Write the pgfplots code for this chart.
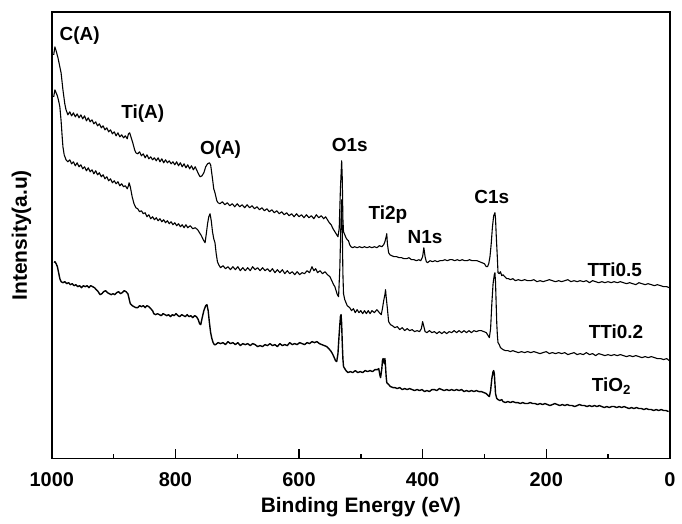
\documentclass[border=0pt]{standalone}
\usepackage{fontspec}
\setmainfont{Liberation Sans}
\usepackage{pgfplots}
\pgfplotsset{compat=1.18}

\begin{document}
\begin{tikzpicture}
\begin{axis}[
    name=ax,
    width=310pt, height=224pt, scale only axis,
    x dir=reverse,
    xmin=0, xmax=1000, ymin=60, ymax=507,
    xtick={0,200,400,600,800,1000},
    minor xtick={100,300,500,700,900},
    ytick=\empty,
    xtick pos=bottom,
    tick align=inside,
    major tick length=5pt, minor tick length=2.5pt,
    axis line style={line width=0.9pt, black},
    every tick/.style={line width=0.7pt, black},
    /pgf/number format/assume math mode=true,
    /pgf/number format/set thousands separator={},
    ticklabel style={font=\fontsize{10}{12}\selectfont\bfseries},
    xticklabel style={yshift=-3.5pt},
    xlabel={Binding Energy (eV)},
    ylabel={Intensity(a.u)},
    label style={font=\fontsize{10.5}{12}\selectfont\bfseries},
    xlabel style={at={(axis description cs:0.5,-0.072)}, anchor=north},
    ylabel style={at={(axis description cs:-0.022,0.5)}, anchor=south},
    spec/.style={black, line width=0.55pt, line join=round, mark=none},
    clip=false,
]
% TTi0.5
\addplot[spec] coordinates {
(997,464) (995,472) (993,468) (990,461) (987,452) (985,446) (982,429) (979,415) (977,409) (974,404)
(971,407) (968,403) (965,406) (962,402) (959,405) (956,401) (953,404) (950,400) (947,403) (944,398)
(941,401) (938,397) (935,399) (932,395) (929,397) (926,393) (923,395) (920,391) (917,393) (914,389)
(911,391) (908,387) (905,389) (902,385) (899,387) (896,383) (893,386) (890,382) (887,384) (884,381)
(881,383) (878,380) (876,385) (874,386) (872,382) (869,376) (866,369) (864,366) (861,365) (858,367)
(855,363) (852,365) (849,361) (846,364) (843,360) (840,362) (837,359) (834,361) (831,358) (828,361)
(825,357) (822,360) (819,356) (816,359) (813,356) (810,358) (807,355) (804,357) (801,354) (798,357)
(795,353) (792,356) (789,352) (786,355) (783,351) (780,354) (777,350) (774,353) (771,349) (768,352)
(765,348) (762,344) (760,342) (757,343) (754,346) (751,352) (748,355) (745,356) (743,354) (740,340)
(738,330) (736,326) (733,318) (731,316) (728,315) (724,317) (720,314) (716,316) (712,313) (708,315)
(704,312) (700,315) (696,312) (692,314) (688,311) (684,314) (680,311) (676,313) (672,310) (668,312)
(664,309) (660,311) (656,308) (652,310) (648,307) (644,309) (640,306) (636,308) (632,305) (628,307)
(624,304) (620,306) (616,303) (612,305) (608,302) (604,305) (600,302) (596,304) (592,301) (588,304)
(584,301) (580,303) (576,300) (572,304) (568,301) (564,303) (560,300) (557,302) (554,299) (551,296)
(548,294) (545,290) (542,287) (539,284) (537,282) (535,290) (533,330) (531,358) (530,340) (529,300)
(528,287) (526,284) (524,281) (522,279) (520,278) (518,274) (516,272) (513,271) (510,272) (506,271)
(502,272) (498,271) (494,272) (490,271) (486,272) (482,271) (478,272) (474,271) (470,273) (466,272)
(463,274) (461,277) (459,282) (458,285) (457,275) (455,266) (453,264) (450,263) (446,262) (442,262)
(438,261) (434,261) (430,260) (426,260) (422,261) (418,259) (414,259) (410,258) (406,259) (403,258)
(400,262) (398,271) (396,262) (394,257) (392,256) (388,258) (384,257) (380,258) (376,257) (372,258)
(368,258) (364,259) (360,258) (356,259) (352,259) (348,258) (344,259) (340,258) (336,259) (332,258)
(328,258) (324,259) (320,258) (316,258) (312,258) (308,257) (304,256) (300,255) (297,252) (295,252)
(293,255) (291,262) (289,275) (287,292) (285,303) (283,306) (282,300) (281,285) (279,260) (278,246)
(276,245) (274,247) (272,243) (270,244) (267,242) (264,240) (261,240) (258,239) (254,240) (250,238)
(245,239) (240,238) (235,239) (230,238) (225,238) (220,239) (215,237) (210,238) (205,237) (200,238)
(195,239) (190,238) (185,237) (180,238) (175,237) (170,238) (165,239) (160,237) (155,238) (150,237)
(145,238) (140,237) (135,238) (130,236) (125,238) (120,237) (115,236) (110,237) (105,236) (100,237)
(95,236) (90,237) (85,236) (80,237) (75,236) (70,235) (65,236) (60,235) (55,234) (50,236)
(45,235) (40,234) (35,235) (30,234) (25,233) (20,234) (15,233) (10,232) (5,232) (1,231)
};
% TTi0.2
\addplot[spec] coordinates {
(997,422) (995,429) (993,426) (991,423) (989,418) (987,412) (985,398) (983,380) (982,372) (980,364)
(977,359) (974,357) (971,359) (968,355) (965,357) (962,353) (959,356) (956,352) (953,354) (950,350)
(947,352) (944,348) (941,351) (938,347) (935,349) (932,345) (929,348) (926,344) (923,346) (920,342)
(917,344) (914,340) (911,342) (908,338) (905,340) (902,336) (899,338) (896,335) (893,337) (890,333)
(887,335) (884,332) (881,333) (878,330) (876,333) (875,336) (873,332) (870,322) (867,315) (864,311)
(861,310) (858,307) (855,308) (852,305) (849,306) (846,302) (843,304) (840,300) (837,302) (834,299)
(831,301) (828,298) (825,300) (822,297) (819,299) (816,296) (813,298) (810,295) (807,297) (804,294)
(801,296) (798,293) (795,295) (792,292) (789,294) (786,291) (783,294) (780,291) (776,293) (772,290)
(768,291) (764,289) (761,286) (758,283) (755,279) (752,276) (750,285) (748,295) (746,302) (744,305)
(742,298) (740,287) (738,280) (736,276) (734,265) (732,257) (730,254) (727,251) (723,253) (719,250)
(715,252) (711,249) (707,252) (703,249) (699,252) (695,248) (691,251) (687,248) (683,251) (679,248)
(675,252) (671,249) (667,251) (663,248) (659,251) (655,248) (651,250) (647,247) (643,250) (639,246)
(635,249) (631,246) (627,249) (623,245) (619,248) (615,245) (611,247) (607,244) (603,247) (599,244)
(595,246) (591,245) (587,248) (583,246) (579,252) (576,248) (573,250) (570,246) (566,248) (562,245)
(558,247) (554,244) (550,242) (547,238) (544,234) (542,232) (540,228) (538,224) (536,222) (534,250)
(532,300) (531,319) (530,290) (529,245) (528,225) (526,219) (524,216) (522,213) (520,212) (518,211)
(515,208) (512,210) (509,206) (506,209) (503,206) (500,208) (497,205) (494,208) (491,205) (488,208)
(485,205) (482,208) (478,206) (474,209) (470,206) (467,204) (465,210) (463,218) (461,224) (460,229)
(459,222) (457,210) (455,197) (452,194) (449,193) (445,191) (441,192) (437,189) (433,191) (429,188)
(425,190) (421,188) (417,189) (413,187) (409,188) (405,187) (402,190) (400,197) (398,192) (396,187)
(393,186) (389,188) (385,186) (381,187) (377,185) (373,187) (369,185) (365,187) (361,185) (357,187)
(353,186) (349,188) (345,186) (341,188) (337,186) (333,188) (329,186) (325,188) (321,186) (317,188)
(313,187) (309,188) (305,188) (301,187) (297,186) (294,183) (292,181) (290,190) (288,215) (286,235)
(284,244) (283,246) (282,236) (281,215) (280,195) (279,183) (278,176) (276,174) (274,171) (272,170)
(270,169) (266,168) (262,168) (258,167) (254,168) (250,167) (245,166) (240,167) (235,166) (230,167)
(225,166) (220,167) (215,166) (210,165) (205,166) (200,167) (195,165) (190,166) (185,165) (180,166)
(175,165) (170,166) (165,164) (160,165) (155,166) (150,164) (145,165) (140,164) (135,166) (130,164)
(125,165) (120,163) (115,165) (110,164) (105,163) (100,164) (95,163) (90,164) (85,163) (80,164)
(75,163) (70,162) (65,163) (60,162) (55,163) (50,162) (45,161) (40,162) (35,161) (30,162)
(25,161) (20,160) (15,160) (10,159) (5,160) (1,158)
};
% TiO2
\addplot[spec, line width=0.7pt] coordinates {
(996,256) (995,257) (993,255) (991,252) (989,246) (987,240) (985,237) (982,236) (979,237) (976,235)
(973,236) (970,234) (967,235) (964,233) (961,234) (958,232) (955,233) (952,231) (949,233) (946,232)
(943,233) (940,231) (937,233) (934,232) (931,231) (928,229) (925,227) (922,224) (919,225) (916,227)
(913,228) (910,226) (907,225) (904,224) (901,225) (898,224) (895,226) (892,227) (889,225) (886,226)
(883,228) (880,227) (877,225) (875,220) (873,215) (870,213) (867,212) (864,211) (861,211) (858,213)
(855,212) (852,213) (849,211) (846,213) (843,212) (840,210) (837,208) (835,205) (832,204) (829,205)
(826,204) (823,203) (820,205) (817,204) (814,203) (811,204) (808,202) (805,204) (802,203) (799,205)
(796,203) (793,202) (790,204) (787,203) (784,202) (781,204) (778,202) (775,203) (772,201) (769,203)
(766,202) (763,199) (761,195) (759,194) (757,200) (754,208) (751,213) (749,214) (747,208) (745,196)
(743,186) (741,180) (739,176) (737,174) (735,174) (731,176) (727,175) (723,176) (719,174) (715,177)
(711,175) (707,176) (703,174) (699,176) (695,173) (691,175) (687,174) (683,175) (679,173) (675,175)
(671,174) (667,172) (663,173) (659,172) (655,174) (651,173) (647,175) (643,173) (639,174) (635,172)
(631,175) (627,173) (623,174) (619,173) (615,176) (611,174) (607,175) (603,174) (599,176) (595,175)
(591,174) (587,176) (583,175) (579,177) (575,176) (571,177) (567,175) (563,174) (559,173) (555,172)
(552,170) (549,168) (546,165) (543,161) (541,158) (539,157) (537,165) (535,185) (533,202) (532,204)
(531,195) (530,175) (529,160) (528,152) (526,150) (524,148) (521,146) (517,147) (513,146) (509,148)
(505,146) (501,147) (497,146) (493,148) (489,147) (485,148) (481,147) (477,149) (473,149) (471,150)
(469,143) (468,141) (466,150) (465,158) (464,160) (463,157) (462,155) (461,160) (460,152) (459,142)
(458,136) (455,134) (452,132) (448,131) (445,131) (441,130) (437,131) (433,129) (429,130) (425,129)
(421,130) (417,129) (413,128) (409,129) (405,128) (401,129) (397,127) (393,128) (389,127) (385,129)
(381,129) (377,128) (373,130) (369,129) (365,128) (361,129) (357,128) (353,129) (349,128) (345,129)
(341,128) (337,129) (333,127) (329,128) (325,127) (321,128) (317,127) (313,128) (309,127) (305,127)
(301,126) (297,125) (294,123) (292,122) (290,128) (288,140) (286,147) (285,148) (284,145) (283,135)
(282,125) (280,120) (278,119) (275,118) (272,119) (270,117) (266,116) (262,117) (258,116) (254,117)
(250,116) (246,116) (242,115) (238,116) (234,115) (230,115) (226,116) (222,115) (218,115) (214,114)
(210,115) (206,114) (202,115) (198,114) (194,113) (190,114) (186,115) (182,114) (178,113) (174,114)
(170,113) (166,114) (162,113) (158,113) (154,112) (150,113) (146,114) (142,113) (138,113) (134,112)
(130,113) (126,112) (122,113) (118,112) (114,113) (110,112) (106,111) (102,112) (98,111) (94,112)
(90,112) (86,111) (82,112) (78,111) (74,112) (70,111) (66,110) (62,111) (58,110) (54,111)
(50,110) (46,110) (42,109) (38,110) (34,109) (30,109) (26,108) (22,109) (18,108) (14,109)
(10,108) (6,108) (2,107)
};
\begin{scope}[every node/.style={font=\fontsize{9.5}{11}\selectfont\bfseries, inner sep=0pt}]
\node at (axis cs:955,483) {C(A)};
\node at (axis cs:853,405) {Ti(A)};
\node at (axis cs:727,369) {O(A)};
\node at (axis cs:518,374) {O1s};
\node at (axis cs:456,304) {Ti2p};
\node at (axis cs:396,282) {N1s};
\node at (axis cs:288,322) {C1s};
\node at (axis cs:89,249) {TTi0.5};
\node at (axis cs:87,187) {TTi0.2};
\node at (axis cs:94,132) {TiO\textsubscript{2}};
\end{scope}
\end{axis}
% frame of the plot area
\draw[line width=0.9pt, black] (ax.south west) rectangle (ax.north east);
% white margins round the picture, as in the reference
\path (ax.north west) ++(0,6pt) (ax.south east) ++(5pt,0) (ax.south west) ++(-26pt,0);
\end{tikzpicture}
\end{document}
